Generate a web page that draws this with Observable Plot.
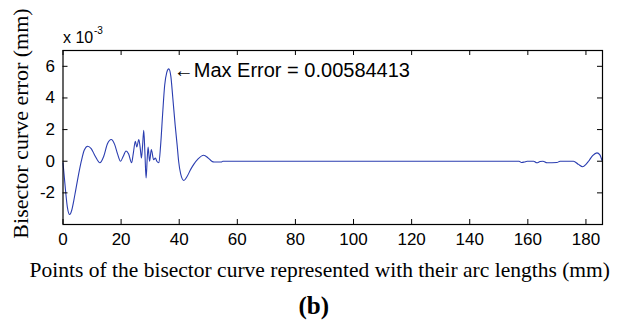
<!DOCTYPE html>
<html>
<head>
<meta charset="utf-8">
<script src="https://cdn.jsdelivr.net/npm/d3@7"></script>
<script src="https://cdn.jsdelivr.net/npm/@observablehq/plot@0.6"></script>
<style>
  html, body { margin: 0; padding: 0; background: #fff; }
  svg { display: block; }
</style>
</head>
<body>
<div id="chart"></div>
<script>
// arc length along the bisector curve (mm)
const arcLength = [0, 0.4, 0.9, 1.5, 2.3, 3.0, 3.7, 4.3, 5.3, 6.3, 7.3, 8.5, 9.7, 11.0, 12.7, 14.0, 15.3, 16.6, 17.8, 18.8, 19.8, 20.7, 21.7, 22.6, 23.6, 24.2, 24.9, 25.4, 26.1, 26.6, 27.0, 27.4, 27.8, 28.2, 28.6, 29.0, 29.3, 29.8, 30.4, 31.2, 31.8, 32.3, 33.0, 33.6, 34.3, 35.0, 35.7, 36.4, 37.1, 37.8, 38.6, 39.3, 39.8, 40.5, 41.6, 42.6, 44.0, 45.0, 46.5, 48.4, 50.0, 51.2, 52.0, 54.5, 55.0, 157.0, 157.8, 158.8, 159.8, 162.0, 163.1, 164.2, 165.2, 166.6, 170.0, 171.1, 175.7, 177.4, 178.9, 180.0, 180.9, 182.3, 183.8, 184.8, 185.5];
// bisector curve error (x 10^-3 mm)
const curveError = [-0.1, -0.9, -1.9, -2.9, -3.37, -3.1, -2.5, -1.9, -0.9, 0.0, 0.7, 0.95, 0.8, 0.35, -0.1, 0.3, 1.1, 1.37, 1.05, 0.45, 0.0, 0.3, 0.65, 0.45, -0.1, 0.5, 1.26, 0.9, 1.37, 0.8, 0.2, 1.0, 1.96, 0.5, -1.06, 0.2, 0.89, 0.0, 0.74, 0.1, 0.2, 0.0, -0.1, 1.0, 3.0, 4.8, 5.6, 5.84, 5.4, 4.0, 2.3, 1.0, 0.0, -0.8, -1.22, -1.0, -0.5, -0.2, 0.15, 0.38, 0.2, 0.0, -0.05, -0.05, 0.0, 0.0, -0.08, -0.05, 0.0, 0.0, -0.1, -0.02, 0.0, -0.1, -0.08, 0.0, 0.0, -0.2, -0.35, -0.2, 0.0, 0.35, 0.53, 0.4, 0.05];

const xTicks = [0, 20, 40, 60, 80, 100, 120, 140, 160, 180];
const yTicks = [-2, 0, 2, 4, 6];
const xDomain = [0, 185.7];
const yDomain = [-4, 7];

const maxPoint = [{x: 36.4, y: 5.84, label: "\u2190Max Error = 0.00584413"}];
const xLabel = "Points of the bisector curve represented with their arc lengths (mm)";
const yLabel = "Bisector curve error (mm)";
const panelLabel = "(b)";

const data = arcLength.map((x, i) => ({x, y: curveError[i]}));

const W = 625, H = 321;
const mL = 62.5, mR = 23, mT = 50, mB = 97;
const fw = W - mL - mR, fh = H - mT - mB;
const sans = "Liberation Sans, Arial, Helvetica, sans-serif";
const serif = "Liberation Serif, Times New Roman, serif";

const chart = Plot.plot({
  width: W, height: H,
  marginLeft: mL, marginRight: mR, marginTop: mT, marginBottom: mB,
  x: {domain: xDomain},
  y: {domain: yDomain},
  style: {background: "#fff", color: "#000"},
  marks: [
    Plot.line(data, {x: "x", y: "y", stroke: "#2a3db0", strokeWidth: 1.1, curve: "monotone-x"}),
    Plot.frame({stroke: "#000", strokeWidth: 1.2}),
    // inward tick marks on all sides
    Plot.tickX(xTicks, {x: d => d, insetTop: fh - 5, stroke: "#000"}),
    Plot.tickX(xTicks, {x: d => d, insetBottom: fh - 5, stroke: "#000"}),
    Plot.tickY(yTicks, {y: d => d, insetRight: fw - 5, stroke: "#000"}),
    Plot.tickY(yTicks, {y: d => d, insetLeft: fw - 5, stroke: "#000"}),
    Plot.axisX({ticks: xTicks, tickSize: 0, tickPadding: 8, label: null, fontSize: 17, fontFamily: sans, tickFormat: d => String(d)}),
    Plot.axisY({ticks: yTicks, tickSize: 0, tickPadding: 8, label: null, fontSize: 17, fontFamily: sans, tickFormat: d => String(d)}),
    // exponent
    Plot.text(["x 10"], {frameAnchor: "top-left", textAnchor: "start", dx: 0, dy: -13, fontSize: 16, fontFamily: sans, lineAnchor: "middle"}),
    Plot.text(["-3"], {frameAnchor: "top-left", textAnchor: "start", dx: 31, dy: -20, fontSize: 10, fontFamily: sans, lineAnchor: "middle"}),
    // annotation
    Plot.text(maxPoint, {x: "x", y: "y", text: "label", textAnchor: "start", dx: 5, dy: 2, fontSize: 20, fontFamily: sans}),
    // axis labels
    Plot.text([xLabel], {frameAnchor: "bottom", dx: -13, dy: 46, fontSize: 21.5, fontFamily: serif, lineAnchor: "middle"}),
    Plot.text([yLabel], {frameAnchor: "left", textAnchor: "middle", rotate: -90, dx: -42.5, dy: -14, fontSize: 22, fontFamily: serif, lineAnchor: "middle"}),
    Plot.text([panelLabel], {frameAnchor: "bottom", dx: -19, dy: 81, fontSize: 25, fontWeight: "bold", fontFamily: serif, lineAnchor: "middle"})
  ]
});
document.getElementById("chart").appendChild(chart);
</script>
</body>
</html>
